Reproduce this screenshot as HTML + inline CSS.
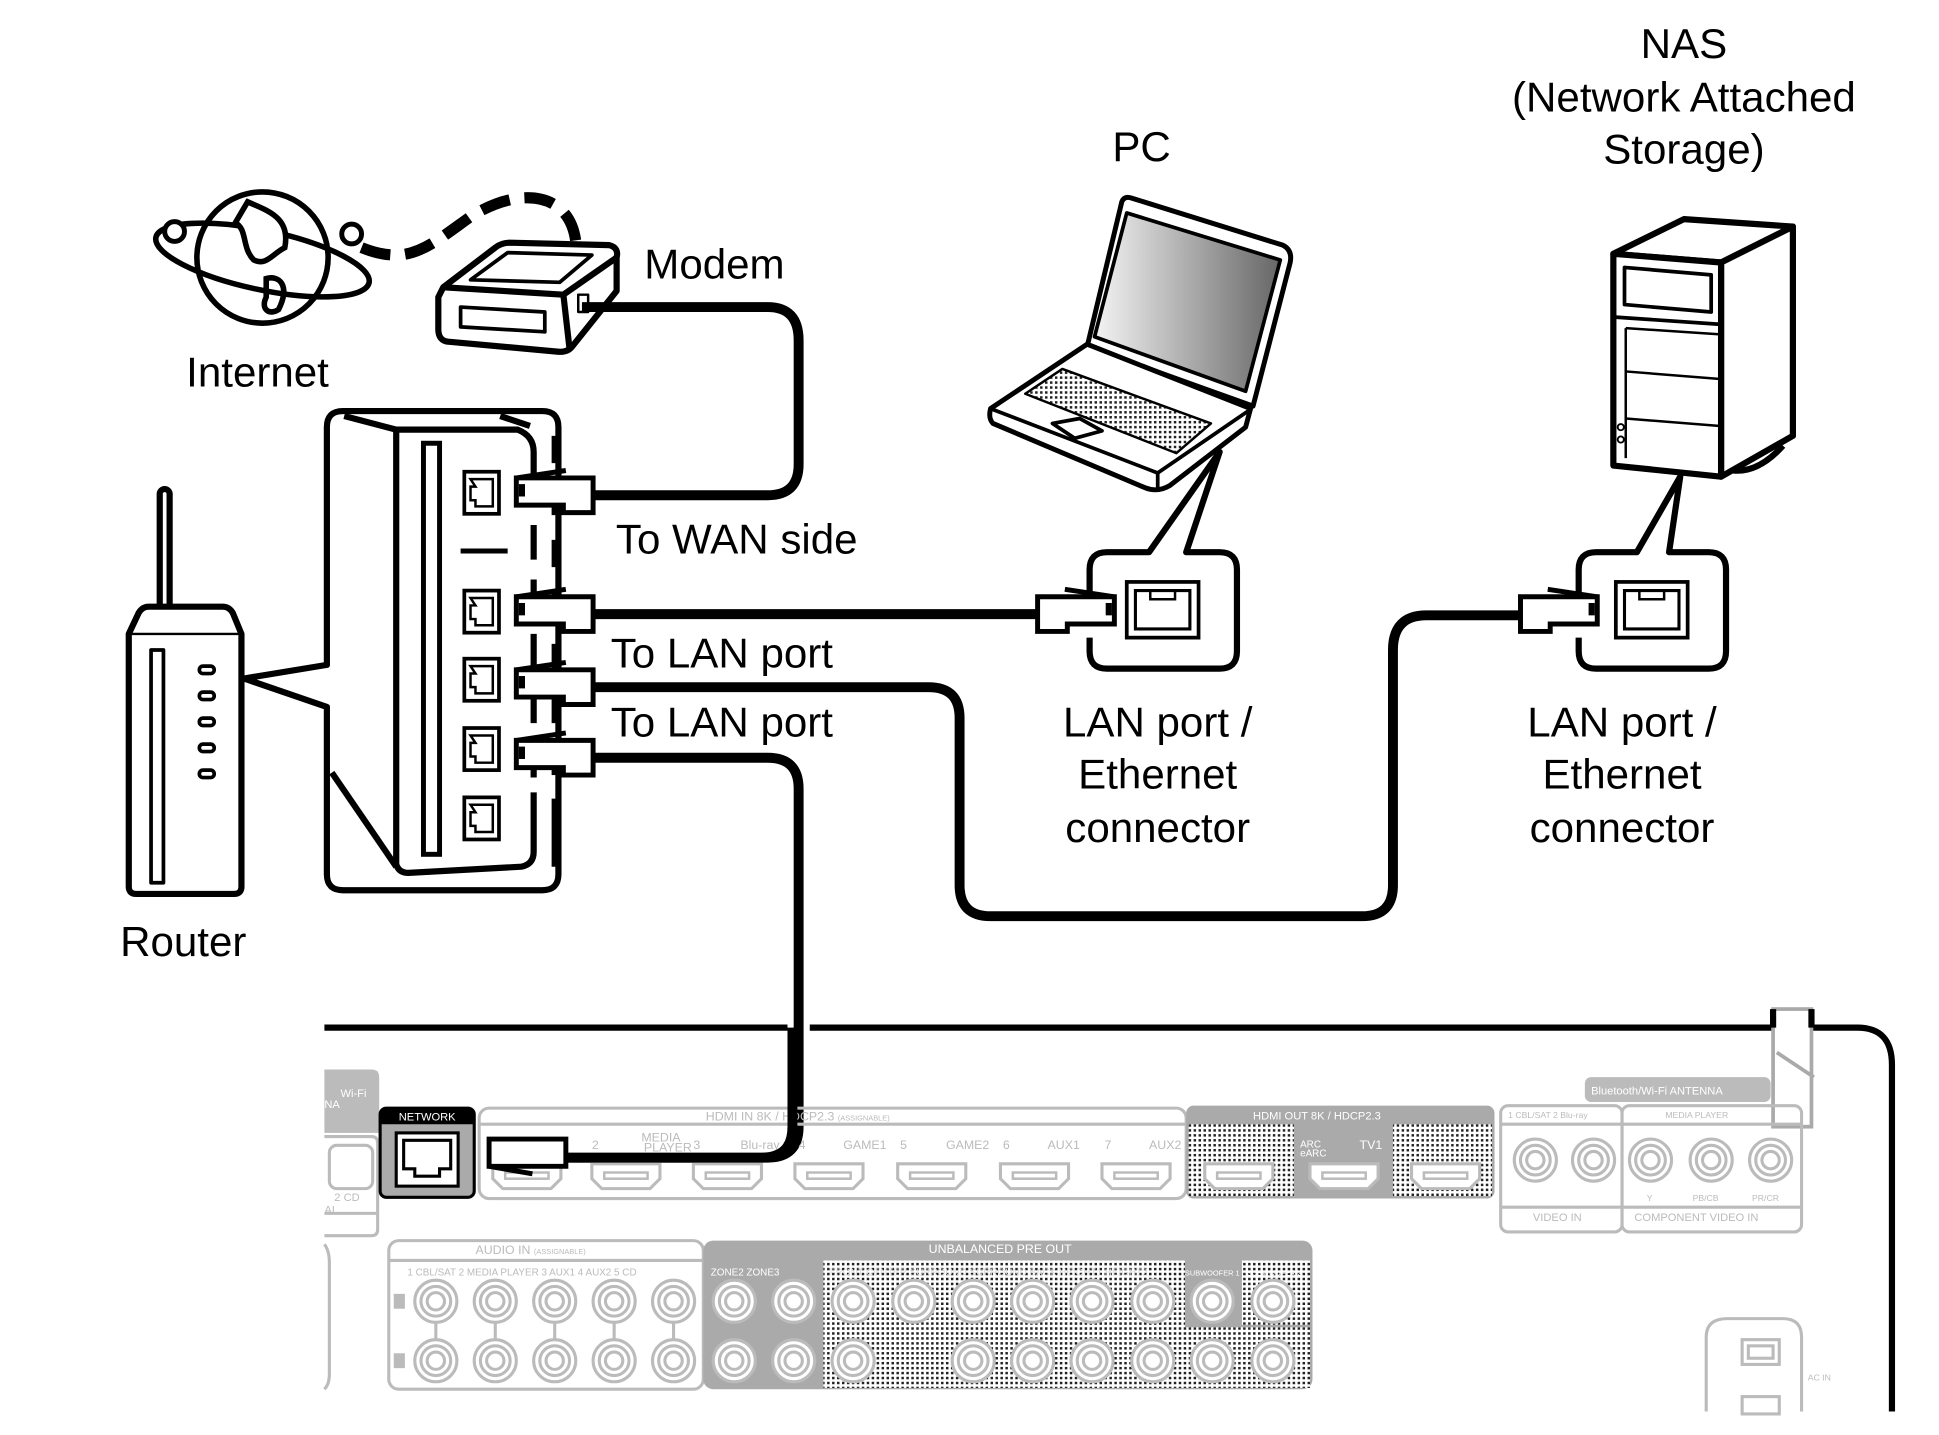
<!DOCTYPE html>
<html><head><meta charset="utf-8"><style>
html,body{margin:0;padding:0;background:#fff;}
svg{display:block;}
text{font-family:"Liberation Sans",sans-serif;}
</style></head><body>
<svg width="1939" height="1435" viewBox="0 0 1566 1159" preserveAspectRatio="none" xmlns="http://www.w3.org/2000/svg">
<defs>
<linearGradient id="scr" x1="0" y1="0" x2="1" y2="0">
<stop offset="0" stop-color="#f4f4f4"/><stop offset="1" stop-color="#666"/>
</linearGradient>
<pattern id="ht" width="4" height="4" patternUnits="userSpaceOnUse">
<rect width="4" height="4" fill="#fff"/><rect width="2" height="2" fill="#222"/>
</pattern>
<g id="plugL">
<path d="M0,0 H62 V28 H38 V22 H0 Z" fill="#fff" stroke="#000" stroke-width="4"/>
<path d="M0,0 L40,-6" stroke="#000" stroke-width="4"/>
<rect x="2" y="5" width="5" height="10" fill="#000"/>
</g>
<g id="rj">
<rect x="0" y="0" width="28" height="34" fill="#fff" stroke="#000" stroke-width="3"/>
<path d="M5,6 H23 V28 H9 V23 H5 V12 H9 Z" fill="none" stroke="#000" stroke-width="2"/>
</g>
<g id="jk">
<circle r="17" fill="#fff" stroke="#bbb" stroke-width="2.5"/>
<circle r="12" fill="none" stroke="#bbb" stroke-width="2.5"/>
<circle r="7" fill="none" stroke="#bbb" stroke-width="2.5"/>
</g>
<g id="hd">
<path d="M0,0 H55 V12 L47,20 H8 L0,12 Z" fill="#fff" stroke="#bbb" stroke-width="2.5"/>
<rect x="10" y="7" width="35" height="5" fill="none" stroke="#bbb" stroke-width="2"/>
</g>
</defs>

<g font-size="34" text-anchor="middle" fill="#000">
<text x="1360" y="47">NAS</text>
<text x="1360" y="90">(Network Attached</text>
<text x="1360" y="132">Storage)</text>
<text x="922" y="130">PC</text>
<text x="577" y="225">Modem</text>
<text x="208" y="312">Internet</text>
<text x="595" y="447">To WAN side</text>
<text x="583" y="539">To LAN port</text>
<text x="583" y="595">To LAN port</text>
<text x="935" y="595">LAN port /</text>
<text x="935" y="637">Ethernet</text>
<text x="935" y="680">connector</text>
<text x="1310" y="595">LAN port /</text>
<text x="1310" y="637">Ethernet</text>
<text x="1310" y="680">connector</text>
<text x="148" y="772">Router</text>
</g>

<g fill="none" stroke="#000" stroke-width="4.5">
<circle cx="212" cy="208" r="53" fill="#fff"/>
<ellipse cx="212" cy="210" rx="88" ry="24" transform="rotate(12 212 210)"/>
<path d="M200,163 C215,170 235,175 230,200 C220,205 215,215 205,210 C195,200 200,185 190,180 Z" fill="#fff"/>
<path d="M215,225 C225,222 235,230 225,250 C218,255 210,250 215,240 Z"/>
</g>
<circle cx="141" cy="187" r="8" fill="#fff" stroke="#000" stroke-width="4"/>
<circle cx="284" cy="189" r="8" fill="#fff" stroke="#000" stroke-width="4"/>
<path d="M292,200 C330,215 345,200 380,175 C420,150 460,155 465,195" fill="none" stroke="#000" stroke-width="9" stroke-dasharray="24 12"/>

<g stroke="#000" stroke-width="5" fill="#fff" stroke-linejoin="round">
<path d="M358,232 L400,200 Q405,196 412,196 L492,198 Q500,200 498,208 L498,235 L462,280 Q458,285 450,284 L362,276 Q354,275 354,266 L354,240 Z"/>
<path d="M358,232 L455,238 L498,208" fill="none"/>
<path d="M455,238 L460,282" fill="none"/>
<path d="M380,226 L410,204 L478,206 L452,228 Z" stroke-width="3"/>
<path d="M372,248 L440,252 L440,268 L372,264 Z" stroke-width="3"/>
<rect x="467" y="238" width="8" height="14" stroke-width="2"/>
</g>

<g fill="none" stroke="#000" stroke-width="8" stroke-linejoin="round">
<path d="M476,400 H620 Q645,400 645,375 V275 Q645,248 620,248 H470"/>
<path d="M476,496 H838"/>
<path d="M476,555 H750 Q775,555 775,580 V715 Q775,740 800,740 H1100 Q1125,740 1125,715 V525 Q1125,497 1152,497 H1230"/>
<path d="M476,612 H620 Q645,612 645,637 V910 Q645,935 620,935 H455"/>
</g>

<g stroke="#000" fill="#fff" stroke-width="5" stroke-linejoin="round">
<rect x="129" y="395" width="8" height="100" rx="4"/>
<path d="M120,490 L180,490 Q185,490 188,495 L195,512 V716 Q195,722 189,722 H110 Q104,722 104,716 V512 L112,495 Q115,490 120,490 Z"/>
<path d="M105,512 H195" stroke-width="2"/>
<rect x="122" y="525" width="10" height="188" stroke-width="3"/>
<rect x="161" y="538" width="12" height="6" rx="3" stroke-width="3"/>
<rect x="161" y="559" width="12" height="6" rx="3" stroke-width="3"/>
<rect x="161" y="580" width="12" height="6" rx="3" stroke-width="3"/>
<rect x="161" y="601" width="12" height="6" rx="3" stroke-width="3"/>
<rect x="161" y="622" width="12" height="6" rx="3" stroke-width="3"/>
</g>
<path d="M264,537 V345 Q264,332 277,332 H438 Q451,332 451,345 V706 Q451,719 438,719 H277 Q264,719 264,706 V571 L197,548 Z" fill="#fff" stroke="#000" stroke-width="5" stroke-linejoin="round"/>
<g stroke="#000" stroke-width="5" fill="none">
<path d="M278,336 L320,347 H418 Q431,352 431,365 V380"/>
<path d="M404,336 L428,344"/>
<path d="M320,347 V698 Q322,705 330,705 L421,700 Q431,698 431,688 V640"/>
<path d="M268,624 L320,700"/>
<rect x="342" y="358" width="13" height="332" stroke-width="4"/>
<path d="M372,445 H410" stroke-width="4"/>
<path d="M431,380 V640" stroke-dasharray="28 16"/>
<path d="M448,352 V630" stroke-dasharray="22 20"/>
<path d="M448,645 V700"/>
</g>
<use href="#rj" x="375" y="381"/>
<use href="#rj" x="375" y="477"/>
<use href="#rj" x="375" y="532"/>
<use href="#rj" x="375" y="588"/>
<use href="#rj" x="375" y="644"/>
<use href="#plugL" x="417" y="386"/>
<use href="#plugL" x="417" y="482"/>
<use href="#plugL" x="417" y="541"/>
<use href="#plugL" x="417" y="598"/>

<g stroke="#000" stroke-width="4" stroke-linejoin="round" fill="#fff">
<path d="M906,163 Q908,158 914,160 L1036,198 Q1044,202 1042,212 L1012,328 L878,280 Z"/>
<path d="M910,172 L1034,210 L1006,316 L884,272 Z" fill="url(#scr)" stroke-width="3"/>
<path d="M878,278 L1010,330 L1006,345 L945,392 Q935,398 925,394 L802,342 Q798,338 800,330 Z"/>
<path d="M800,330 L935,382 L1008,332" fill="none" stroke-width="3"/>
<path d="M935,382 L935,395" stroke-width="3"/>
<path d="M858,298 L978,342 L950,366 L828,318 Z" fill="url(#ht)" stroke-width="2"/>
<path d="M850,342 L872,338 L890,348 L868,354 Z" stroke-width="3"/>
</g>
<path d="M880,480 V460 Q880,446 894,446 H928 L985,365 L958,446 H985 Q999,446 999,460 V526 Q999,540 985,540 H894 Q880,540 880,526 V515" fill="#fff" stroke="#000" stroke-width="5" stroke-linejoin="round"/>
<rect x="910" y="470" width="58" height="45" fill="#fff" stroke="#000" stroke-width="3"/>
<path d="M917,477 H961 V508 H917 Z" fill="none" stroke="#000" stroke-width="2.5"/>
<path d="M929,477 V484 H949 V477" fill="none" stroke="#000" stroke-width="2"/>
<g transform="translate(900,482) scale(-1,1)"><use href="#plugL"/></g>

<g stroke="#000" stroke-width="5" stroke-linejoin="round" fill="#fff">
<path d="M1303,205 L1360,177 L1448,183 L1390,212 Z"/>
<path d="M1390,212 L1448,183 V352 L1390,385 Z"/>
<path d="M1303,205 L1390,212 V385 L1303,376 Z"/>
<path d="M1312,216 L1382,222 V252 L1312,246 Z" stroke-width="3"/>
<path d="M1303,256 L1390,262" stroke-width="3"/>
<path d="M1313,265 V370" stroke-width="2"/>
<path d="M1313,265 L1388,270 M1313,300 L1388,306 M1313,338 L1388,344" stroke-width="2" fill="none"/>
<circle cx="1309" cy="345" r="2.5" stroke-width="1.5"/>
<circle cx="1309" cy="355" r="2.5" stroke-width="1.5"/>
<path d="M1400,380 Q1420,382 1440,360" fill="none"/>
</g>
<path d="M1275,480 V460 Q1275,446 1289,446 H1322 L1357,385 L1348,446 H1380 Q1394,446 1394,460 V526 Q1394,540 1380,540 H1289 Q1275,540 1275,526 V515" fill="#fff" stroke="#000" stroke-width="5" stroke-linejoin="round"/>
<rect x="1305" y="470" width="58" height="45" fill="#fff" stroke="#000" stroke-width="3"/>
<path d="M1312,477 H1356 V508 H1312 Z" fill="none" stroke="#000" stroke-width="2.5"/>
<path d="M1324,477 V484 H1344 V477" fill="none" stroke="#000" stroke-width="2"/>
<g transform="translate(1290,482) scale(-1,1)"><use href="#plugL"/></g>

<g fill="none" stroke="#000" stroke-width="5">
<path d="M262,830 H636 M654,830 H1432"/>
<path d="M1463,830 H1500 Q1528,830 1528,860 V1140"/>
</g>
<rect x="1432" y="815" width="31" height="95" fill="#fff" stroke="#aaa" stroke-width="3"/>
<path d="M1435,850 L1465,870" stroke="#aaa" stroke-width="3"/>
<path d="M1432,815 V830 M1463,815 V830" stroke="#000" stroke-width="5"/>

<g stroke="#bbb" stroke-width="2.5" fill="none">
<path d="M262,865 H300 Q305,865 305,870 V915"/>
<rect x="262" y="865" width="43" height="50" fill="#bbb" stroke="none"/>
<path d="M262,918 H300 Q305,918 305,923 V993 Q305,998 300,998 H262"/>
<path d="M262,980 H305"/>
<path d="M262,1005 Q266,1010 266,1020 V1110 Q266,1118 262,1122"/>
<rect x="266" y="925" width="35" height="35" rx="6"/>
<rect x="387" y="895" width="571" height="73" rx="8"/>
<path d="M387,908 H958"/>
<rect x="1212" y="893" width="98" height="102" rx="6"/>
<rect x="1310" y="893" width="145" height="102" rx="6"/>
<path d="M1212,908 H1455 M1212,975 H1455"/>
<rect x="314" y="1002" width="254" height="120" rx="8"/>
<path d="M314,1018 H568"/>
<path d="M1378,1140 V1080 Q1378,1065 1395,1065 H1440 Q1455,1065 1455,1080 V1140"/>
<rect x="1407" y="1082" width="30" height="20"/>
<rect x="1412" y="1087" width="20" height="10"/>
<rect x="1407" y="1128" width="30" height="14"/>
</g>
<text x="275" y="886" font-size="9" fill="#fff">Wi-Fi</text>
<text x="262" y="895" font-size="9" fill="#fff">NA</text>
<text x="270" y="970" font-size="9" fill="#bbb">2 CD</text>
<text x="262" y="980" font-size="9" fill="#bbb">AL</text>
<rect x="307" y="895" width="76" height="72" rx="5" fill="#aaa" stroke="#000" stroke-width="2.5"/>
<path d="M307,908 V900 Q307,895 312,895 H378 Q383,895 383,900 V908 Z" fill="#000"/>
<text x="345" y="905" font-size="9" fill="#fff" text-anchor="middle">NETWORK</text>
<rect x="320" y="915" width="50" height="43" fill="#fff" stroke="#000" stroke-width="2.5"/>
<path d="M326,921 H364 V944 H355 V950 H335 V944 H326 Z" fill="none" stroke="#000" stroke-width="2.5"/>
<g font-size="10" fill="#bbb">
<text x="570" y="905">HDMI IN   8K / HDCP2.3  <tspan font-size="6">(ASSIGNABLE)</tspan></text>
<text x="478" y="928">2</text>
<text x="518" y="922">MEDIA</text><text x="520" y="930">PLAYER</text><text x="560" y="928">3</text>
<text x="598" y="928">Blu-ray</text><text x="645" y="928">4</text>
<text x="681" y="928">GAME1</text><text x="727" y="928">5</text>
<text x="764" y="928">GAME2</text><text x="810" y="928">6</text>
<text x="846" y="928">AUX1</text><text x="892" y="928">7</text>
<text x="928" y="928">AUX2</text>
</g>
<use href="#hd" x="398" y="940"/>
<use href="#hd" x="478" y="940"/>
<use href="#hd" x="560" y="940"/>
<use href="#hd" x="642" y="940"/>
<use href="#hd" x="725" y="940"/>
<use href="#hd" x="808" y="940"/>
<use href="#hd" x="890" y="940"/>
<rect x="958" y="893" width="249" height="75" rx="6" fill="#aaa"/>
<rect x="960" y="908" width="85" height="58" fill="url(#ht)"/>
<rect x="1125" y="908" width="80" height="58" fill="url(#ht)"/>
<text x="1012" y="904" font-size="9" fill="#fff">HDMI OUT  8K / HDCP2.3</text>
<text x="1050" y="927" font-size="8" fill="#fff">ARC</text><text x="1050" y="934" font-size="8" fill="#fff">eARC</text>
<text x="1098" y="928" font-size="10" fill="#fff">TV1</text>
<use href="#hd" x="973" y="940"/>
<use href="#hd" x="1058" y="940"/>
<use href="#hd" x="1140" y="940"/>
<rect x="1280" y="870" width="150" height="20" rx="5" fill="#bbb"/>
<text x="1285" y="884" font-size="9" fill="#fff">Bluetooth/Wi-Fi ANTENNA</text>
<g font-size="7" fill="#bbb">
<text x="1218" y="903">1 CBL/SAT   2 Blu-ray</text>
<text x="1345" y="903">MEDIA PLAYER</text>
<text x="1330" y="970">Y</text><text x="1367" y="970">PB/CB</text><text x="1415" y="970">PR/CR</text>
<text x="1238" y="986" font-size="9">VIDEO IN</text>
<text x="1320" y="986" font-size="9">COMPONENT VIDEO IN</text>
<text x="1460" y="1115">AC IN</text>
</g>
<use href="#jk" x="1240" y="937"/><use href="#jk" x="1287" y="937"/>
<use href="#jk" x="1333" y="937"/><use href="#jk" x="1382" y="937"/><use href="#jk" x="1430" y="937"/>
<g font-size="8" fill="#bbb">
<text x="384" y="1013" font-size="10">AUDIO IN <tspan font-size="6">(ASSIGNABLE)</tspan></text>
<text x="329" y="1030">1 CBL/SAT 2 MEDIA PLAYER  3 AUX1   4 AUX2    5 CD</text>
</g>
<rect x="318" y="1045" width="9" height="12" fill="#bbb"/><rect x="318" y="1093" width="9" height="12" fill="#bbb"/>
<g stroke="#bbb" stroke-width="2.5">
<path d="M352,1060 V1090 M400,1060 V1090 M448,1060 V1090 M496,1060 V1090 M544,1060 V1090"/>
</g>
<use href="#jk" x="352" y="1051"/><use href="#jk" x="400" y="1051"/><use href="#jk" x="448" y="1051"/><use href="#jk" x="496" y="1051"/><use href="#jk" x="544" y="1051"/>
<use href="#jk" x="352" y="1099"/><use href="#jk" x="400" y="1099"/><use href="#jk" x="448" y="1099"/><use href="#jk" x="496" y="1099"/><use href="#jk" x="544" y="1099"/>
<rect x="568" y="1002" width="492" height="120" rx="8" fill="#aaa"/>
<rect x="665" y="1018" width="292" height="103" fill="url(#ht)"/>
<rect x="1003" y="1018" width="55" height="52" fill="url(#ht)"/>
<rect x="955" y="1072" width="103" height="49" fill="url(#ht)"/>
<text x="750" y="1012" font-size="10" fill="#fff">UNBALANCED PRE  OUT</text>
<g font-size="8" fill="#fff">
<text x="574" y="1030">ZONE2   ZONE3</text>
<text x="670" y="1030" fill="#ddd">FRONT   CENTER   SURROUND SURROUND BACK HEIGHT1   HEIGHT2</text>
<text x="957" y="1030" font-size="6">SUBWOOFER 1</text><text x="1007" y="1030" font-size="6">SUBWOOFER 2</text>
</g>
<use href="#jk" x="593" y="1051"/><use href="#jk" x="641" y="1051"/><use href="#jk" x="689" y="1051"/><use href="#jk" x="738" y="1051"/><use href="#jk" x="786" y="1051"/><use href="#jk" x="834" y="1051"/><use href="#jk" x="882" y="1051"/><use href="#jk" x="931" y="1051"/><use href="#jk" x="979" y="1051"/><use href="#jk" x="1028" y="1051"/>
<use href="#jk" x="593" y="1099"/><use href="#jk" x="641" y="1099"/><use href="#jk" x="689" y="1099"/><use href="#jk" x="786" y="1099"/><use href="#jk" x="834" y="1099"/><use href="#jk" x="882" y="1099"/><use href="#jk" x="931" y="1099"/><use href="#jk" x="979" y="1099"/><use href="#jk" x="1028" y="1099"/>

<path d="M640,830 V910 Q640,935 615,935 H455" fill="none" stroke="#000" stroke-width="8"/>
<g transform="translate(395,920)"><path d="M0,0 H62 V22 H0 Z" fill="#fff" stroke="#000" stroke-width="4"/><path d="M0,22 L35,28" stroke="#000" stroke-width="4"/></g>
</svg>
</body></html>
